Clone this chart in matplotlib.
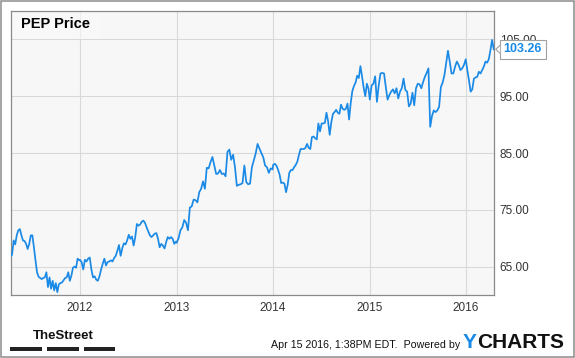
import matplotlib
matplotlib.use('Agg')
import matplotlib.pyplot as plt
import matplotlib.dates as mdates
from matplotlib.patches import Rectangle, Polygon
import pandas as pd

# weekly PEP closes, one list per calendar year
prices_2011 = [66.8, 67.1, 69.6, 68.9, 70.5, 71.4, 71.6, 70.5, 69.6, 69.5, 69.0, 68.1,
               69.0, 70.5, 70.5, 68.4, 66.1, 64.0, 63.2, 63.0, 62.8, 63.0, 63.1, 64.0,
               61.4, 63.1, 61.1, 62.5, 60.8, 62.1, 60.5, 61.9, 62.1, 62.2, 62.6, 63.0,
               63.1, 64.0, 62.5, 63.4, 64.8, 65.0, 64.8, 66.4, 66.1]
prices_2012 = [66.2, 65.8, 64.5, 66.2, 65.9, 66.4, 66.6, 64.5, 63.1, 63.3, 62.7, 62.5,
               63.3, 64.5, 65.5, 66.4, 65.2, 65.8, 65.9, 66.1, 65.9, 66.5, 66.9, 67.8,
               68.8, 66.9, 68.2, 69.1, 68.9, 69.6, 70.6, 69.9, 70.3, 68.7, 70.2, 72.5,
               72.2, 72.4, 72.9, 73.1, 72.7, 71.9, 71.2, 70.5, 70.2, 70.5, 70.8, 70.9,
               69.9, 68.4, 69.0, 68.7, 68.2, 69.3, 70.2, 69.9, 70.2, 69.9, 69.0, 69.4]
prices_2013 = [69.2, 70.0, 71.4, 71.9, 73.2, 72.7, 71.4, 75.4, 75.6, 76.8, 76.7, 76.3,
               78.1, 78.7, 80.0, 78.7, 82.4, 82.3, 83.4, 84.3, 82.8, 81.3, 81.4, 82.0,
               81.3, 81.4, 80.9, 85.2, 85.6, 83.8, 84.7, 82.5, 79.2, 79.4, 79.5, 79.7,
               82.8, 79.9, 79.5, 79.6, 82.5, 83.7, 84.9, 86.6, 85.8, 85.0, 84.3, 82.8,
               82.5, 81.5, 82.3, 82.1]
prices_2014 = [82.9, 83.1, 82.8, 82.1, 81.2, 79.7, 79.8, 79.6, 78.1, 79.4, 81.5, 82.0,
               82.0, 82.5, 82.9, 83.5, 84.7, 85.7, 85.7, 85.7, 85.9, 86.6, 85.9, 85.7,
               87.8, 87.9, 87.6, 87.4, 90.2, 88.8, 90.2, 90.2, 90.3, 92.1, 90.6, 88.2,
               90.4, 91.9, 92.2, 92.6, 92.1, 91.9, 93.5, 92.8, 92.6, 92.8, 93.7, 90.9,
               93.8, 95.9, 96.8, 97.4, 98.6, 98.2, 100.3, 98.5, 96.5, 95.0, 97.2, 96.3]
prices_2015 = [94.4, 96.9, 97.2, 98.5, 94.0, 96.9, 99.0, 99.1, 99.0, 96.6, 94.4, 95.2,
               95.8, 96.2, 95.5, 96.4, 94.6, 95.8, 96.4, 98.1, 96.1, 95.8, 93.2, 93.7,
               95.6, 93.4, 96.4, 97.2, 97.1, 96.4, 97.5, 98.4, 99.1, 99.9, 89.6, 91.5,
               92.5, 92.2, 92.5, 93.1, 96.6, 97.4, 98.7, 100.8, 103.0, 101.1, 99.0, 99.0,
               100.2, 101.1, 100.5, 99.6, 99.9, 100.5, 101.5]
prices_2016 = [99.6, 97.8, 95.8, 96.2, 98.1, 98.3, 98.4, 99.3, 99.0, 99.6, 100.2, 101.1,
               100.9, 101.5, 103.1, 104.9, 103.26]

year_chunks = [
    (prices_2011, '2011-04-13', '2011-12-29'),
    (prices_2012, '2012-01-01', '2012-12-29'),
    (prices_2013, '2013-01-01', '2013-12-30'),
    (prices_2014, '2014-01-01', '2014-12-28'),
    (prices_2015, '2015-01-02', '2015-12-31'),
    (prices_2016, '2016-01-06', '2016-04-15'),
]

year_ticks = ['2012', '2013', '2014', '2015', '2016']
price_ticks = [65, 75, 85, 95, 105]

dates = []
prices = []
for vals, start, end in year_chunks:
    dates.extend(pd.date_range(start, end, periods=len(vals)))
    prices.extend(vals)

blue = '#1a8ae6'
W, H = 575, 358

fig = plt.figure(figsize=(W / 100, H / 100), dpi=100)
fig.patch.set_facecolor('white')

# plot area in pixels: x 10.5..494, y 11..295
ax = fig.add_axes([10.5 / W, (H - 295) / H, (494 - 10.5) / W, (295 - 11) / H])
ax.set_facecolor('#f7f7f7')
ax.plot(dates, prices, color=blue, lw=1.25, zorder=3)

ax.set_xlim(pd.Timestamp('2011-04-13'), pd.Timestamp('2016-04-16'))
ax.set_ylim(60, 110)
ax.set_xticks([pd.Timestamp(y + '-01-01') for y in year_ticks])
ax.set_xticklabels(year_ticks)
ax.set_yticks(price_ticks)
ax.set_yticklabels([f'{v:.2f}' for v in price_ticks])
ax.yaxis.tick_right()
ax.tick_params(axis='both', length=0, labelsize=8.5, labelcolor='#333333',
               labelfontfamily='Liberation Sans')
ax.tick_params(axis='y', pad=4)
ax.tick_params(axis='x', pad=5)
ax.grid(True, color='#d9d9d9', lw=0.8, zorder=0)
for sp in ax.spines.values():
    sp.set_color('#8a8a8a')
    sp.set_linewidth(0.9)

# title box
ax.add_patch(Rectangle((0, 1 - 28 / 284), 91 / 483.5, 28 / 284, transform=ax.transAxes,
                       fc='#f9f9f9', ec='none', alpha=0.6, zorder=2))
ax.text(10.5 / 483.5, 1 - 13.5 / 284, 'PEP Price', transform=ax.transAxes,
        fontsize=10.5, fontweight='bold', family='Liberation Sans',
        va='center', ha='left', color='black', zorder=4)

# last price callout (it sits over the 105.00 label, as in the original)
ann = ax.annotate(f'{prices[-1]:.2f}', xy=(dates[-1], prices[-1]), xytext=(7, 0),
                  textcoords='offset points', ha='left', va='center', color=blue,
                  fontsize=9, fontweight='bold', family='Liberation Sans',
                  bbox=dict(boxstyle='square,pad=0.3', fc='white', ec='#a0a0a0', lw=0.8),
                  annotation_clip=False, zorder=6)
fig.canvas.draw()
px, py = ax.transData.transform((mdates.date2num(dates[-1]), prices[-1]))
bb = ann.get_bbox_patch().get_window_extent()
tip = [(bb.x0 - 4) / W, py / H]
notch = Polygon([((bb.x0 + 0.5) / W, (py + 4) / H), tip, ((bb.x0 + 0.5) / W, (py - 4) / H)],
                closed=False, transform=fig.transFigure, fc='white', ec='#a0a0a0',
                lw=0.8, zorder=7)
fig.patches.append(notch)

# footer
fig.text(33 / W, 1 - 336 / H, 'TheStreet', fontsize=9.5, fontweight='bold',
         family='Liberation Sans', ha='left', va='center', color='#111111')
for x0, x1 in [(10, 42), (47, 79), (84, 115)]:
    fig.patches.append(Rectangle((x0 / W, 1 - 351 / H), (x1 - x0) / W, 4 / H,
                                 transform=fig.transFigure, fc='#222222', ec='none'))
fig.text(460 / W, 1 - 345 / H, 'Apr 15 2016, 1:38PM EDT.  Powered by', fontsize=7.7,
         family='Liberation Sans', ha='right', va='center', color='#111111')
logo_y = fig.text(463 / W, 1 - 342 / H, 'Y', fontsize=15, fontweight='bold',
                  family='Liberation Sans', ha='left', va='center', color=blue)
fig.canvas.draw()
ybox = logo_y.get_window_extent()
fig.text((ybox.x1 + 0.5) / W, 1 - 342 / H, 'CHARTS', fontsize=15, fontweight='bold',
         family='Liberation Sans', ha='left', va='center', color='#111111')

# outer frame
fig.patches.append(Rectangle((1 / W, 1 / H), (W - 2) / W, (H - 2) / H,
                             transform=fig.transFigure, fill=False, ec='#8c8c8c', lw=1.1))

fig.savefig('out.png', dpi=100)
